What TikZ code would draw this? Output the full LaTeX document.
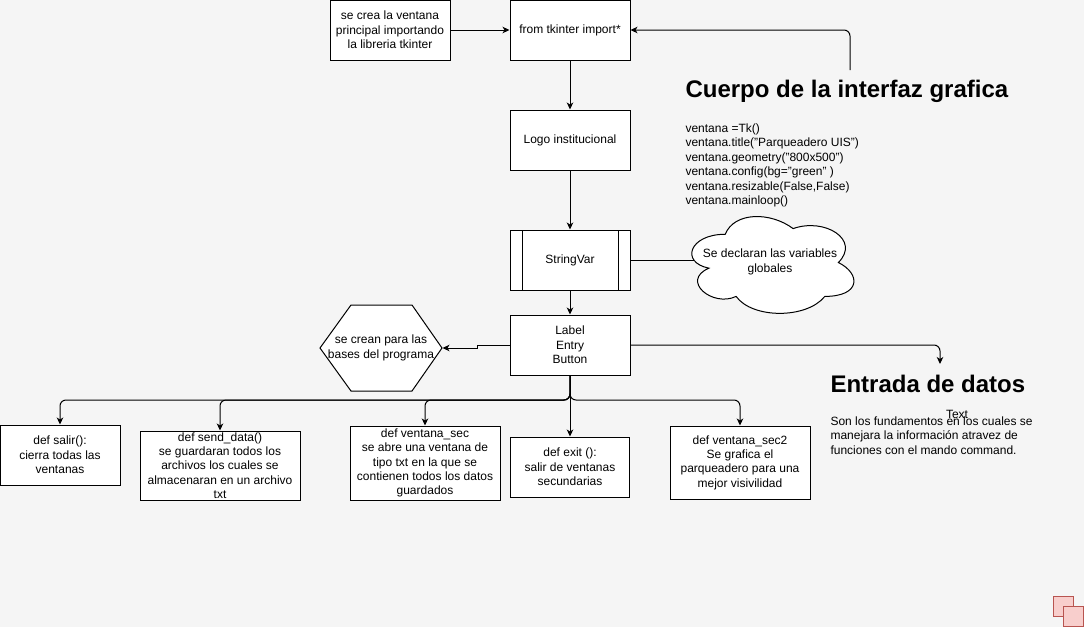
\documentclass[tikz,border=0pt]{standalone}
\usepackage{fontspec}
\setmainfont{Liberation Sans}
\usetikzlibrary{arrows.meta,calc}
\newcommand\fsz{\fontsize{12}{14.4}\selectfont}
\newcommand\fttl{\fontsize{24}{28.8}\selectfont\bfseries}
\definecolor{bgc}{HTML}{F5F5F5}
\definecolor{pinkf}{HTML}{F8CECC}
\definecolor{pinkd}{HTML}{B85450}
\begin{document}
\begin{tikzpicture}[x=1pt,y=-1pt,line width=1pt,
  box/.style 2 args={draw=black, fill=white, align=center, font=\fsz, inner sep=0pt,
    minimum width=#1, minimum height=#2},
  txt/.style={inner sep=0pt, font=\fsz},
  arr/.style={-{Stealth[length=7pt,width=6.5pt,inset=2pt]}},
  conn/.style={draw=black, line width=1pt}]
\fill[bgc] (0,0) rectangle (1084,627);
\useasboundingbox (0,0) rectangle (1084,627);

% main column
\node[box={120pt}{60pt}] (box1) at (390,30) {se crea la ventana\\principal importando\\la libreria tkinter};
\node[box={120pt}{60pt}] (box2) at (570,30) {from tkinter import*};
\node[box={120pt}{60pt}] (logo) at (570,140) {Logo institucional};
\node[box={120pt}{60pt}] (strv) at (570,260) {StringVar};
\draw (522,230) -- (522,290) (618,230) -- (618,290);
\node[box={120pt}{60pt}] (lbl) at (570,345) {Label\\Entry\\Button};

% hexagon
\draw[fill=white] (320,348) -- (351,305) -- (412,305) -- (442,348) -- (412,391) -- (351,391) -- cycle;
\node[txt, align=center, minimum width=122pt, minimum height=86pt] (hex) at (381,348) {se crean para las\\bases del programa};

% cloud
\begin{scope}[shift={(680,206)}, x=181pt, y=-113pt]
\draw[fill=white] (0.25,0.25) .. controls (0.05,0.25) and (0,0.5) .. (0.16,0.55)
  .. controls (0,0.66) and (0.18,0.9) .. (0.31,0.8)
  .. controls (0.4,1) and (0.7,1) .. (0.8,0.8)
  .. controls (1,0.8) and (1,0.6) .. (0.875,0.5)
  .. controls (1,0.3) and (0.8,0.1) .. (0.625,0.2)
  .. controls (0.5,0.05) and (0.3,0.05) .. (0.25,0.25) -- cycle;
\end{scope}
\node[txt, align=center] (cloud) at (770,262) {Se declaran las variables\\globales};
\coordinate (cloudL) at (694,260);

% bottom boxes
\node[box={120pt}{60pt}] (salir) at (60,455) {def salir():\\cierra todas las\\ventanas};
\node[box={160pt}{69pt}] (send) at (220,465.5) {def send\_data()\\se guardaran todos los\\archivos los cuales se\\almacenaran en un archivo\\txt};
\node[box={150pt}{74pt}] (vsec) at (425,463) {def ventana\_sec\\se abre una ventana de\\tipo txt en la que se\\contienen todos los datos\\guardados};
\node[box={119pt}{60pt}] (exitb) at (570,467) {def exit ():\\salir de ventanas\\secundarias};
\node[box={140pt}{73pt}] (sec2) at (740,462.5) {def ventana\_sec2\\Se grafica el\\parqueadero para una\\mejor visivilidad};

% texts on the right
\node[anchor=base west, inner sep=0pt, font=\fttl] (t1) at (685,97) {Cuerpo de la interfaz grafica};
\node[anchor=north west, txt, align=left] (code) at (685,123.3) {ventana =Tk()\\ventana.title("Parqueadero UIS")\\ventana.geometry("800x500")\\ventana.config(bg="green" )\\ventana.resizable(False,False)\\ventana.mainloop()};
\node[anchor=base west, inner sep=0pt, font=\fttl] (t2) at (830,392) {Entrada de datos};
\node[anchor=north west, txt, align=left] (para) at (830,416.3) {Son los fundamentos en los cuales se\\manejara la información atravez de\\funciones con el mando command.};
\node[anchor=base, txt] (textlbl) at (957,418) {Text};

% connectors
\draw[arr] (box1) -- (box2);
\draw[arr] (box2) -- (logo);
\draw[arr] (logo) -- (strv);
\draw[arr] (strv) -- (lbl);
\draw (strv.east) -- (cloudL);
\draw[arr] (lbl.west) -- ++(-32,0) -- ++(0,3) -- (hex.east);
\coordinate (entryend) at (940,364);
\draw[arr, rounded corners=6pt] (lbl.east) -- (940,345) -- (entryend);
\coordinate (cstart) at (850,70);
\draw[arr, rounded corners=6pt] (cstart) -- (850,30) -- (box2.east);
\coordinate (fk) at (570,400);
\foreach \t in {salir,send,vsec,sec2}
  \draw[arr, rounded corners=6pt] (lbl.south) -- (fk) -- (\t.north |- fk) -- (\t.north);
\draw[arr] (lbl.south) -- (exitb.north);

% corner icon
\draw[fill=pinkf, draw=pinkd] (1053,596) rectangle (1073,616);
\draw[fill=pinkf, draw=pinkd] (1063,606) rectangle (1083,626);
\end{tikzpicture}
\end{document}
